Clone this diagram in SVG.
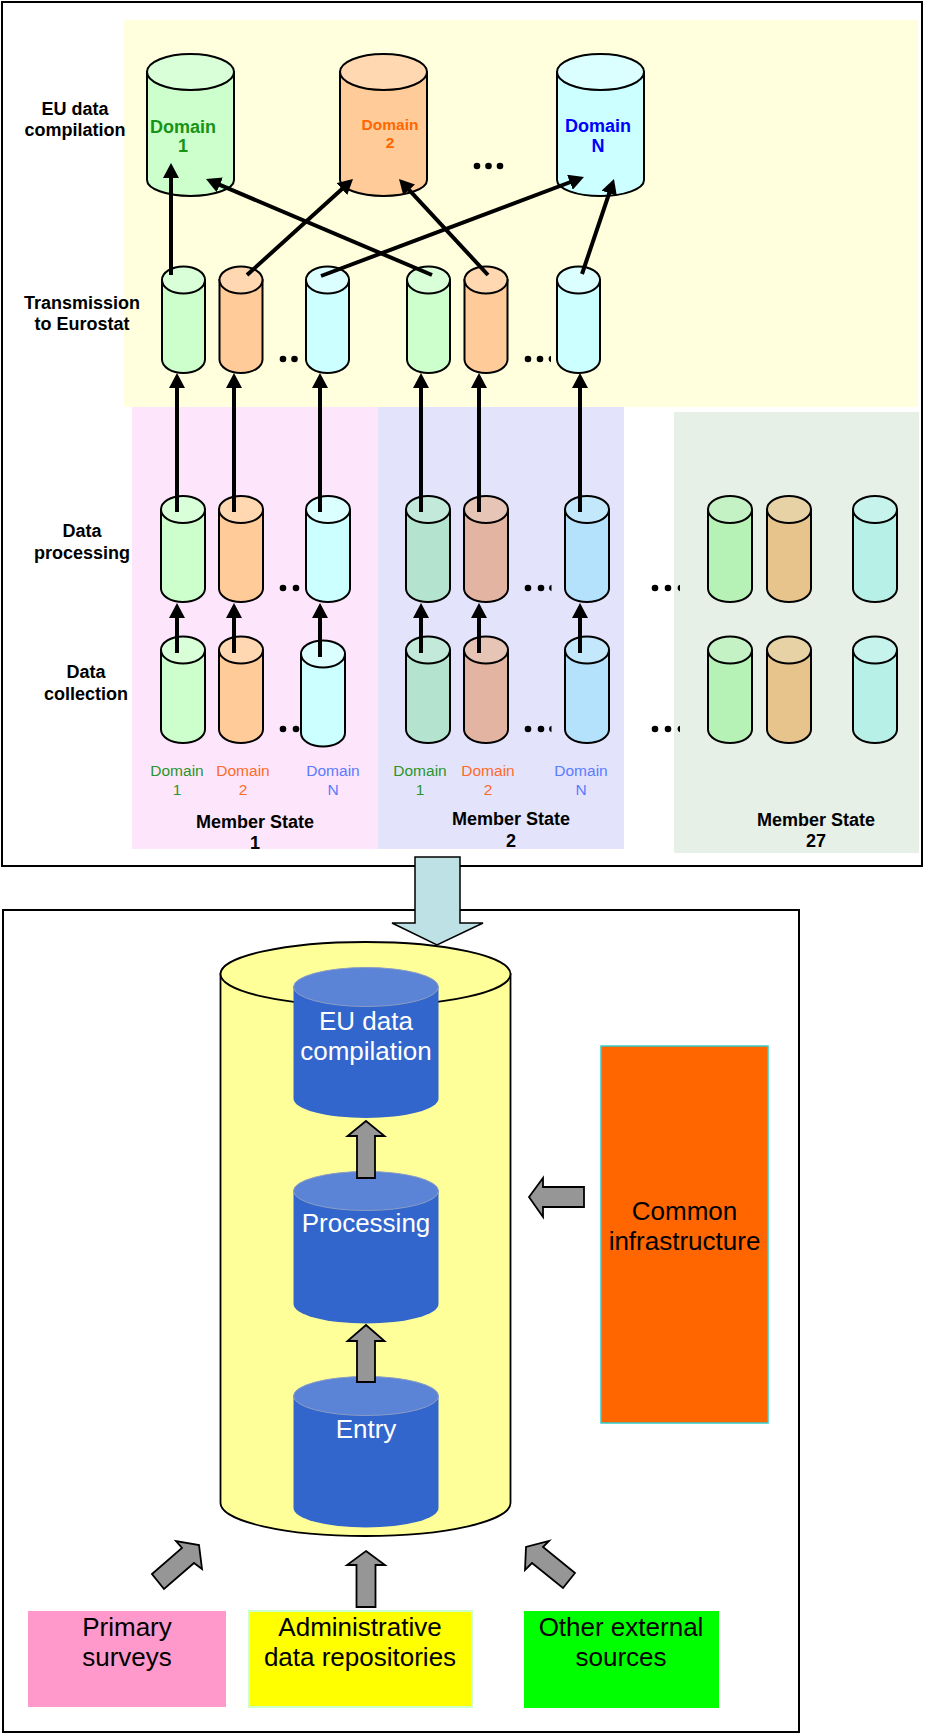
<svg xmlns="http://www.w3.org/2000/svg" width="925" height="1735" viewBox="0 0 925 1735">
  <style>
    text { font-family: "Liberation Sans", Arial, sans-serif; }
    .lbl { font-size: 18px; font-weight: bold; fill: #000; text-anchor: middle; }
    .dom { font-size: 15.5px; text-anchor: middle; }
    .big { font-size: 26px; text-anchor: middle; }
    .cyl { stroke: #000; stroke-width: 2; }
    .bcyl { fill: #3366cc; }
    .btop { fill: #5b84d6; stroke: #8a9cc4; stroke-width: 1; }
    .conn line { stroke: #000; stroke-width: 4; marker-end: url(#ah); }
    .garrow { fill: #969696; stroke: #000; stroke-width: 1.8; stroke-linejoin: miter; }
    .dot { fill: #000; }
    .g1 { fill: #ccffcc; } .g1t { fill: #d9ffd9; }
    .o1 { fill: #ffcc99; } .o1t { fill: #ffd8b2; }
    .c1 { fill: #ccffff; } .c1t { fill: #dbffff; }
    .g2 { fill: #b4e3d0; } .g2t { fill: #c2e9d9; }
    .o2 { fill: #e3b4a2; } .o2t { fill: #e6c4b6; }
    .c2 { fill: #b4e1fb; } .c2t { fill: #c4e8fb; }
    .g3 { fill: #b6f2b6; } .g3t { fill: #c4f2c4; }
    .o3 { fill: #e6c48c; } .o3t { fill: #e6d2a4; }
    .c3 { fill: #b6f0e6; } .c3t { fill: #c6f3eb; }
  </style>
  <defs>
    <marker id="ah" markerUnits="userSpaceOnUse" markerWidth="16" markerHeight="16" refX="5" refY="8" orient="auto">
      <path d="M0,0 L15,8 L0,16 Z" fill="#000"/>
    </marker>
  </defs>

  <rect width="925" height="1735" fill="#fff"/>

  <!-- upper panel: national data flows -->
  <g id="upper-panel">
    <rect x="2" y="2" width="920" height="864" fill="#fff" stroke="#000" stroke-width="2"/>
    <rect x="124" y="20" width="794" height="387" fill="#ffffdd"/>
    <rect x="132" y="407" width="246" height="442" fill="#fde5fc"/>
    <rect x="378" y="407" width="246" height="442" fill="#e3e3fc"/>
    <rect x="674" y="412" width="245" height="441" fill="#e6f0e6"/>
  </g>

  <!-- row labels -->
  <g id="row-labels">
    <text class="lbl" x="75" y="115">EU data</text>
    <text class="lbl" x="75" y="136">compilation</text>
    <text class="lbl" x="82" y="309">Transmission</text>
    <text class="lbl" x="82" y="330">to Eurostat</text>
    <text class="lbl" x="82" y="537">Data</text>
    <text class="lbl" x="82" y="559">processing</text>
    <text class="lbl" x="86" y="678">Data</text>
    <text class="lbl" x="86" y="700">collection</text>
  </g>

  <!-- EU level domain stores -->
  <g id="eu-domain-1">
    <path class="cyl g1" d="M147,72 V180 A43.5,16 0 0 0 234,180 V72 Z"/>
    <ellipse class="cyl g1t" cx="190.5" cy="72" rx="43.5" ry="18"/>
    <text class="lbl" x="183" y="133" style="fill:#179317">Domain</text>
    <text class="lbl" x="183" y="152" style="fill:#179317">1</text>
  </g>
  <g id="eu-domain-2">
    <path class="cyl o1" d="M340,72 V180 A43.5,16 0 0 0 427,180 V72 Z"/>
    <ellipse class="cyl o1t" cx="383.5" cy="72" rx="43.5" ry="18"/>
    <text class="lbl" x="390" y="130" style="fill:#ff6600;font-size:15.5px">Domain</text>
    <text class="lbl" x="390" y="148" style="fill:#ff6600;font-size:15.5px">2</text>
  </g>
  <g id="eu-dots">
    <circle class="dot" cx="477" cy="166" r="3.3"/>
    <circle class="dot" cx="488.5" cy="166" r="3.3"/>
    <circle class="dot" cx="500" cy="166" r="3.3"/>
  </g>
  <g id="eu-domain-n">
    <path class="cyl c1" d="M557,72 V180 A43.5,16 0 0 0 644,180 V72 Z"/>
    <ellipse class="cyl c1t" cx="600.5" cy="72" rx="43.5" ry="18"/>
    <text class="lbl" x="598" y="132" style="fill:#0000ff">Domain</text>
    <text class="lbl" x="598" y="152" style="fill:#0000ff">N</text>
  </g>

  <!-- ellipsis dots between stores -->
  <g id="dots">
    <circle class="dot" cx="283" cy="359" r="3.3"/>
    <circle class="dot" cx="294.5" cy="359" r="3.3"/>
    <circle class="dot" cx="528" cy="359" r="3.3"/>
    <circle class="dot" cx="540" cy="359" r="3.3"/>
    <path class="dot" d="M551,355.8 A3.3,3.3 0 0 0 551,362.2 Z"/>

    <circle class="dot" cx="283" cy="588" r="3.3"/>
    <circle class="dot" cx="296" cy="588" r="3.3"/>
    <circle class="dot" cx="528" cy="588" r="3.3"/>
    <circle class="dot" cx="541" cy="588" r="3.3"/>
    <path class="dot" d="M551.5,584.8 A3.3,3.3 0 0 0 551.5,591.2 Z"/>
    <circle class="dot" cx="655" cy="588" r="3.3"/>
    <circle class="dot" cx="668" cy="588" r="3.3"/>
    <path class="dot" d="M680,584.8 A3.3,3.3 0 0 0 680,591.2 Z"/>

    <circle class="dot" cx="283" cy="729" r="3.3"/>
    <circle class="dot" cx="296" cy="729" r="3.3"/>
    <circle class="dot" cx="307" cy="729" r="3.3"/>
    <circle class="dot" cx="528" cy="729" r="3.3"/>
    <circle class="dot" cx="541" cy="729" r="3.3"/>
    <path class="dot" d="M551.5,725.8 A3.3,3.3 0 0 0 551.5,732.2 Z"/>
    <circle class="dot" cx="655" cy="729" r="3.3"/>
    <circle class="dot" cx="668" cy="729" r="3.3"/>
    <path class="dot" d="M680,725.8 A3.3,3.3 0 0 0 680,732.2 Z"/>
  </g>

  <!-- transmission stores -->
  <g id="tx-ms1-d1"><path class="cyl g1" d="M162,280 V359.5 A21.5,13.5 0 0 0 205,359.5 V280 Z"/><ellipse class="cyl g1t" cx="183.5" cy="280" rx="21.5" ry="13.5"/></g>
  <g id="tx-ms1-d2"><path class="cyl o1" d="M219.5,280 V359.5 A21.5,13.5 0 0 0 262.5,359.5 V280 Z"/><ellipse class="cyl o1t" cx="241" cy="280" rx="21.5" ry="13.5"/></g>
  <g id="tx-ms1-dn"><path class="cyl c1" d="M306,280 V359.5 A21.5,13.5 0 0 0 349,359.5 V280 Z"/><ellipse class="cyl c1t" cx="327.5" cy="280" rx="21.5" ry="13.5"/></g>
  <g id="tx-ms2-d1"><path class="cyl g1" d="M407,280 V359.5 A21.5,13.5 0 0 0 450,359.5 V280 Z"/><ellipse class="cyl g1t" cx="428.5" cy="280" rx="21.5" ry="13.5"/></g>
  <g id="tx-ms2-d2"><path class="cyl o1" d="M464.5,280 V359.5 A21.5,13.5 0 0 0 507.5,359.5 V280 Z"/><ellipse class="cyl o1t" cx="486" cy="280" rx="21.5" ry="13.5"/></g>
  <g id="tx-ms2-dn"><path class="cyl c1" d="M557,280 V359.5 A21.5,13.5 0 0 0 600,359.5 V280 Z"/><ellipse class="cyl c1t" cx="578.5" cy="280" rx="21.5" ry="13.5"/></g>

  <!-- processing stores -->
  <g id="pr-ms1-d1"><path class="cyl g1" d="M161,509.5 V588.5 A22,13.5 0 0 0 205,588.5 V509.5 Z"/><ellipse class="cyl g1t" cx="183" cy="509.5" rx="22" ry="13.5"/></g>
  <g id="pr-ms1-d2"><path class="cyl o1" d="M219,509.5 V588.5 A22,13.5 0 0 0 263,588.5 V509.5 Z"/><ellipse class="cyl o1t" cx="241" cy="509.5" rx="22" ry="13.5"/></g>
  <g id="pr-ms1-dn"><path class="cyl c1" d="M306,509.5 V588.5 A22,13.5 0 0 0 350,588.5 V509.5 Z"/><ellipse class="cyl c1t" cx="328" cy="509.5" rx="22" ry="13.5"/></g>
  <g id="pr-ms2-d1"><path class="cyl g2" d="M406,509.5 V588.5 A22,13.5 0 0 0 450,588.5 V509.5 Z"/><ellipse class="cyl g2t" cx="428" cy="509.5" rx="22" ry="13.5"/></g>
  <g id="pr-ms2-d2"><path class="cyl o2" d="M464,509.5 V588.5 A22,13.5 0 0 0 508,588.5 V509.5 Z"/><ellipse class="cyl o2t" cx="486" cy="509.5" rx="22" ry="13.5"/></g>
  <g id="pr-ms2-dn"><path class="cyl c2" d="M565,509.5 V588.5 A22,13.5 0 0 0 609,588.5 V509.5 Z"/><ellipse class="cyl c2t" cx="587" cy="509.5" rx="22" ry="13.5"/></g>
  <g id="pr-ms27-d1"><path class="cyl g3" d="M708,509.5 V588.5 A22,13.5 0 0 0 752,588.5 V509.5 Z"/><ellipse class="cyl g3t" cx="730" cy="509.5" rx="22" ry="13.5"/></g>
  <g id="pr-ms27-d2"><path class="cyl o3" d="M767,509.5 V588.5 A22,13.5 0 0 0 811,588.5 V509.5 Z"/><ellipse class="cyl o3t" cx="789" cy="509.5" rx="22" ry="13.5"/></g>
  <g id="pr-ms27-dn"><path class="cyl c3" d="M853,509.5 V588.5 A22,13.5 0 0 0 897,588.5 V509.5 Z"/><ellipse class="cyl c3t" cx="875" cy="509.5" rx="22" ry="13.5"/></g>

  <!-- collection stores -->
  <g id="co-ms1-d1"><path class="cyl g1" d="M161,650 V729.5 A22,13.5 0 0 0 205,729.5 V650 Z"/><ellipse class="cyl g1t" cx="183" cy="650" rx="22" ry="13.5"/></g>
  <g id="co-ms1-d2"><path class="cyl o1" d="M219,650 V729.5 A22,13.5 0 0 0 263,729.5 V650 Z"/><ellipse class="cyl o1t" cx="241" cy="650" rx="22" ry="13.5"/></g>
  <g id="co-ms1-dn"><path class="cyl c1" d="M301,654 V733 A22,13.5 0 0 0 345,733 V654 Z"/><ellipse class="cyl c1t" cx="323" cy="654" rx="22" ry="13.5"/></g>
  <g id="co-ms2-d1"><path class="cyl g2" d="M406,650 V729.5 A22,13.5 0 0 0 450,729.5 V650 Z"/><ellipse class="cyl g2t" cx="428" cy="650" rx="22" ry="13.5"/></g>
  <g id="co-ms2-d2"><path class="cyl o2" d="M464,650 V729.5 A22,13.5 0 0 0 508,729.5 V650 Z"/><ellipse class="cyl o2t" cx="486" cy="650" rx="22" ry="13.5"/></g>
  <g id="co-ms2-dn"><path class="cyl c2" d="M565,650 V729.5 A22,13.5 0 0 0 609,729.5 V650 Z"/><ellipse class="cyl c2t" cx="587" cy="650" rx="22" ry="13.5"/></g>
  <g id="co-ms27-d1"><path class="cyl g3" d="M708,650 V729.5 A22,13.5 0 0 0 752,729.5 V650 Z"/><ellipse class="cyl g3t" cx="730" cy="650" rx="22" ry="13.5"/></g>
  <g id="co-ms27-d2"><path class="cyl o3" d="M767,650 V729.5 A22,13.5 0 0 0 811,729.5 V650 Z"/><ellipse class="cyl o3t" cx="789" cy="650" rx="22" ry="13.5"/></g>
  <g id="co-ms27-dn"><path class="cyl c3" d="M853,650 V729.5 A22,13.5 0 0 0 897,729.5 V650 Z"/><ellipse class="cyl c3t" cx="875" cy="650" rx="22" ry="13.5"/></g>

  <!-- domain captions and member state names -->
  <g id="ms-labels">
    <text class="dom" x="177" y="776" fill="#2a962a">Domain</text>
    <text class="dom" x="177" y="795" fill="#2a962a">1</text>
    <text class="dom" x="243" y="776" fill="#ff6a2a">Domain</text>
    <text class="dom" x="243" y="795" fill="#ff6a2a">2</text>
    <text class="dom" x="333" y="776" fill="#5b7bff">Domain</text>
    <text class="dom" x="333" y="795" fill="#5b7bff">N</text>
    <text class="dom" x="420" y="776" fill="#2a962a">Domain</text>
    <text class="dom" x="420" y="795" fill="#2a962a">1</text>
    <text class="dom" x="488" y="776" fill="#ff6a2a">Domain</text>
    <text class="dom" x="488" y="795" fill="#ff6a2a">2</text>
    <text class="dom" x="581" y="776" fill="#5b7bff">Domain</text>
    <text class="dom" x="581" y="795" fill="#5b7bff">N</text>
    <text class="lbl" x="255" y="828">Member State</text>
    <text class="lbl" x="255" y="849">1</text>
    <text class="lbl" x="511" y="825">Member State</text>
    <text class="lbl" x="511" y="847">2</text>
    <text class="lbl" x="816" y="826">Member State</text>
    <text class="lbl" x="816" y="847">27</text>
  </g>

  <!-- flow connectors -->
  <g id="connectors" class="conn">
    <line x1="177" y1="653" x2="177" y2="613"/>
    <line x1="234" y1="653" x2="234" y2="613"/>
    <line x1="320" y1="657" x2="320" y2="613"/>
    <line x1="421" y1="653" x2="421" y2="613"/>
    <line x1="479" y1="653" x2="479" y2="613"/>
    <line x1="580" y1="653" x2="580" y2="613"/>

    <line x1="177" y1="512" x2="177" y2="383"/>
    <line x1="234" y1="512" x2="234" y2="383"/>
    <line x1="320" y1="512" x2="320" y2="383"/>
    <line x1="421" y1="512" x2="421" y2="383"/>
    <line x1="479" y1="512" x2="479" y2="383"/>
    <line x1="580" y1="512" x2="580" y2="383"/>

    <line x1="171" y1="275" x2="171" y2="173"/>
    <line x1="247" y1="275" x2="345.6" y2="185.7"/>
    <line x1="321" y1="276" x2="574.6" y2="180.5"/>
    <line x1="432" y1="275" x2="215.2" y2="182.9"/>
    <line x1="488" y1="275" x2="405.8" y2="186.3"/>
    <line x1="582" y1="274" x2="610.8" y2="188.5"/>
  </g>

  <!-- lower panel: integrated production -->
  <g id="lower-panel">
    <rect x="3" y="910" width="796" height="822" fill="#fff" stroke="#000" stroke-width="2"/>
  </g>

  <g id="flow-down-arrow">
    <path d="M415,857 H460 V923 H483 L437,945 L392,923 H415 Z" fill="#bde1e4" stroke="#000" stroke-width="1.5"/>
  </g>

  <g id="integrated-store">
    <path d="M220.5,974 V1503 A145,33 0 0 0 510.5,1503 V974 Z" fill="#ffff99" stroke="#000" stroke-width="1.8"/>
    <ellipse cx="365.5" cy="974" rx="145" ry="32" fill="#ffff99" stroke="#000" stroke-width="1.8"/>
  </g>

  <g id="store-eu-compilation">
    <path class="bcyl" d="M293.5,987 V1098.5 A72.5,19.5 0 0 0 438.5,1098.5 V987 Z"/>
    <ellipse class="btop" cx="366" cy="987" rx="72.5" ry="19.5"/>
    <text class="big" x="366" y="1030" fill="#fff">EU data</text>
    <text class="big" x="366" y="1060" fill="#fff">compilation</text>
  </g>
  <g id="store-processing">
    <path class="bcyl" d="M293.5,1191 V1304 A72.5,19.5 0 0 0 438.5,1304 V1191 Z"/>
    <ellipse class="btop" cx="366" cy="1191" rx="72.5" ry="19.5"/>
    <text class="big" x="366" y="1232" fill="#fff">Processing</text>
  </g>
  <g id="store-entry">
    <path class="bcyl" d="M293.5,1396 V1508 A72.5,19.5 0 0 0 438.5,1508 V1396 Z"/>
    <ellipse class="btop" cx="366" cy="1396" rx="72.5" ry="19.5"/>
    <text class="big" x="366" y="1438" fill="#fff">Entry</text>
  </g>

  <g id="common-infrastructure">
    <rect x="601" y="1046" width="167" height="377" fill="#ff6600" stroke="#33cccc" stroke-width="1.5"/>
    <text class="big" x="684.5" y="1220" fill="#000">Common</text>
    <text class="big" x="684.5" y="1250" fill="#000">infrastructure</text>
  </g>

  <g id="primary-surveys">
    <rect x="28" y="1611" width="198" height="96" fill="#ff99cc"/>
    <text class="big" x="127" y="1636" fill="#000">Primary</text>
    <text class="big" x="127" y="1666" fill="#000">surveys</text>
  </g>
  <g id="admin-repositories">
    <rect x="249" y="1611" width="223" height="96" fill="#ffff00" stroke="#ccffcc" stroke-width="2"/>
    <text class="big" x="360" y="1636" fill="#000">Administrative</text>
    <text class="big" x="360" y="1666" fill="#000">data repositories</text>
  </g>
  <g id="other-sources">
    <rect x="524" y="1611" width="195" height="97" fill="#00ff00"/>
    <text class="big" x="621" y="1636" fill="#000">Other external</text>
    <text class="big" x="621" y="1666" fill="#000">sources</text>
  </g>

  <!-- block arrows of the lower panel -->
  <g id="block-arrows">
    <polygon class="garrow" points="366,1121 384.5,1136 375,1136 375,1178 357,1178 357,1136 347.5,1136"/>
    <polygon class="garrow" points="366,1325 384.5,1341 375,1341 375,1382 357,1382 357,1341 347.5,1341"/>
    <polygon class="garrow" points="366,1551 385,1565 375.5,1565 375.5,1607 356.5,1607 356.5,1565 347,1565"/>
    <polygon class="garrow" points="529,1197 543,1178 543,1187 584,1187 584,1207 543,1207 543,1217"/>
    <polygon class="garrow" points="152,1574 182,1548 176,1541 199,1545 202,1569 194,1563 164,1589"/>
    <polygon class="garrow" points="575,1573 543,1547 549,1541 526,1547 525,1570 532,1563 563,1588"/>
  </g>
</svg>
